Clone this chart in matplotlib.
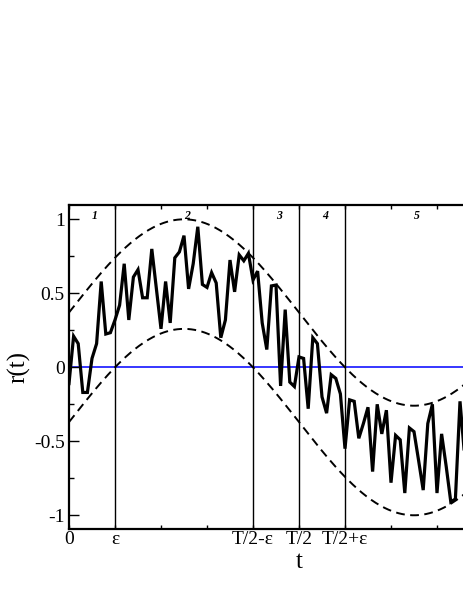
import numpy as np
import matplotlib
matplotlib.use("Agg")
import matplotlib.pyplot as plt
from matplotlib.ticker import FixedLocator, FixedFormatter

# ---------------- data ----------------
t_values = [0.0, 0.1, 0.2, 0.3, 0.4, 0.5, 0.6, 0.7, 0.8, 0.9,
            1.0, 1.1, 1.2, 1.3, 1.4, 1.5, 1.6, 1.7, 1.8, 1.9,
            2.0, 2.1, 2.2, 2.3, 2.4, 2.5, 2.6, 2.7, 2.8, 2.9,
            3.0, 3.1, 3.2, 3.3, 3.4, 3.5, 3.6, 3.7, 3.8, 3.9,
            4.0, 4.1, 4.2, 4.3, 4.4, 4.5, 4.6, 4.7, 4.8, 4.9,
            5.0, 5.1, 5.2, 5.3, 5.4, 5.5, 5.6, 5.7, 5.8, 5.9,
            6.0, 6.1, 6.2, 6.3, 6.4, 6.5, 6.6, 6.7, 6.8, 6.9,
            7.0, 7.1, 7.2, 7.3, 7.4, 7.5, 7.6, 7.7, 7.8, 7.9,
            8.0, 8.1, 8.2, 8.3, 8.4, 8.5, 8.6]
r_values = [-0.11, 0.21, 0.16, -0.17, -0.17, 0.06, 0.16, 0.58, 0.225, 0.234,
            0.32, 0.42, 0.70, 0.32, 0.61, 0.66, 0.47, 0.47, 0.80, 0.53,
            0.26, 0.58, 0.30, 0.74, 0.78, 0.89, 0.53, 0.70, 0.95, 0.56,
            0.54, 0.64, 0.57, 0.20, 0.32, 0.725, 0.51, 0.76, 0.72, 0.77,
            0.59, 0.65, 0.30, 0.12, 0.55, 0.556, -0.126, 0.39, -0.10, -0.13,
            0.07, 0.06, -0.28, 0.20, 0.16, -0.20, -0.31, -0.05, -0.075, -0.18,
            -0.55, -0.22, -0.23, -0.48, -0.38, -0.27, -0.705, -0.25, -0.45, -0.29,
            -0.78, -0.46, -0.49, -0.85, -0.41, -0.435, -0.63, -0.83, -0.38, -0.25,
            -0.85, -0.45, -0.67, -0.91, -0.89, -0.23, -0.60]

# envelope model (period T, half-width eps)
period_T = 10.0
eps = 1.0
env_amp = 0.63

# vertical markers and their tick labels
marker_positions = [1.0, 4.0, 5.0, 6.0]
xtick_positions = [0, 1, 2, 3, 4, 5, 6, 7, 8, 9]
xtick_labels = ["0", "ε", "", "", "T/2-ε", "T/2", "T/2+ε", "", "", ""]
ytick_positions = [-1, -0.5, 0, 0.5, 1]
ytick_labels = ["-1", "-0.5", "0", "0.5", "1"]
ytick_minor = [-0.75, -0.25, 0.25, 0.75]

region_labels = ["1", "2", "3", "4", "5"]
region_label_x = [0.5, 2.5, 4.5, 5.5, 7.5]
region_label_y = 1.0

# ---------------- figure ----------------
W, H = 463, 599
fig = plt.figure(figsize=(W / 100, H / 100), dpi=100)
ax_left, ax_right_px = 69, 529
ax_top, ax_bot = 205.3, 529.3
ax = fig.add_axes([ax_left / W, 1 - ax_bot / H,
                   (ax_right_px - ax_left) / W, (ax_bot - ax_top) / H])

serif = "Liberation Serif"

ax.set_xlim(0, 10)
ax.set_ylim(-1.095, 1.095)

# zero line
ax.axhline(0, color="#0000ff", lw=1.1, zorder=1)
# vertical markers
for xm in marker_positions:
    ax.axvline(xm, color="black", lw=1.0, zorder=1)

# envelopes
tt = np.linspace(0, period_T, 400)
base = env_amp * np.sin(2 * np.pi * tt / period_T)
shift = env_amp * np.sin(2 * np.pi * eps / period_T)
ax.plot(tt, base + shift, color="black", lw=1.4, ls=(0, (4.5, 2.8)), zorder=2)
ax.plot(tt, base - shift, color="black", lw=1.4, ls=(0, (4.5, 2.8)), zorder=2)

# noisy signal
ax.plot(t_values, r_values, color="black", lw=2.3, zorder=3,
        solid_joinstyle="miter")

# region labels
for lab, xl in zip(region_labels, region_label_x):
    ax.text(xl, region_label_y, lab, fontsize=8.5, fontstyle="italic",
            fontweight="bold", family=serif, ha="left", va="baseline")

# ticks
ax.xaxis.set_major_locator(FixedLocator(xtick_positions))
ax.xaxis.set_major_formatter(FixedFormatter(xtick_labels))
ax.yaxis.set_major_locator(FixedLocator(ytick_positions))
ax.yaxis.set_major_formatter(FixedFormatter(ytick_labels))
ax.yaxis.set_minor_locator(FixedLocator(ytick_minor))

ax.tick_params(axis="x", which="major", direction="in", length=3.2, width=1.0,
               top=True, bottom=True, labelsize=14, pad=1.5)
ax.tick_params(axis="y", which="major", direction="in", length=7, width=1.0,
               left=True, right=False, labelsize=14, pad=3)
ax.tick_params(axis="y", which="minor", direction="in", length=3.5, width=1.0,
               left=True, right=False)
for lab in ax.get_xticklabels() + ax.get_yticklabels():
    lab.set_family(serif)

for sp in ax.spines.values():
    sp.set_linewidth(1.6)

ax.set_xlabel("t", fontsize=18, family=serif, va="baseline")
ax.xaxis.set_label_coords(0.5, (ax_bot - 567.7) / (ax_bot - ax_top))
ax.set_ylabel("r(t)", fontsize=18, family=serif, va="center")
ax.yaxis.set_label_coords((19 - ax_left) / (ax_right_px - ax_left), 0.5)

fig.savefig("out.png", dpi=100)
